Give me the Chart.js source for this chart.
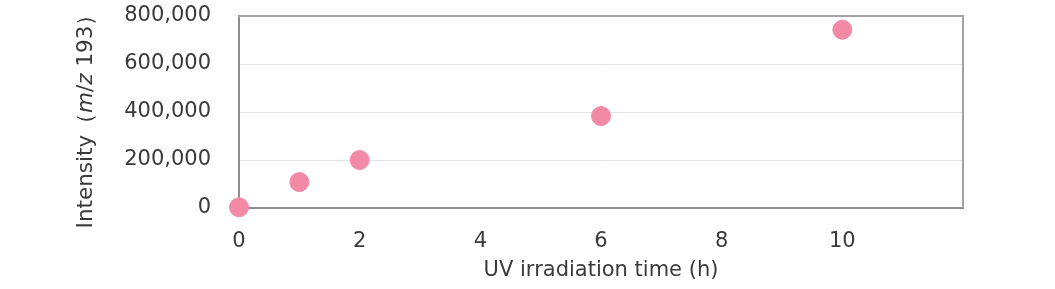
<!DOCTYPE html>
<html>
<head>
<meta charset="utf-8">
<script src="https://cdn.jsdelivr.net/npm/chart.js@4"></script>
<style>
  html, body { margin: 0; padding: 0; background: #fff; }
  #wrap { width: 1055px; height: 289px; }
</style>
</head>
<body>
<div id="wrap"><canvas id="uvChart" width="1055" height="289"></canvas></div>
<script>
// irradiation time (h) and measured intensity of m/z 193
const hours = [0, 1, 2, 6, 10];
const intensity = [3000, 108000, 200000, 383000, 743000];
const xTicks = [0, 2, 4, 6, 8, 10];
const yTicks = [0, 200000, 400000, 600000, 800000];

const FONT = 'DejaVu Sans, Verdana, sans-serif';

// frame round the plot area (top and right sides)
const frame = {
    id: 'frame',
    beforeDatasetsDraw(chart) {
        const {ctx, chartArea: a} = chart;
        ctx.save();
        ctx.strokeStyle = '#a3a3a3';
        ctx.lineWidth = 2;
        ctx.beginPath();
        ctx.moveTo(a.left, a.top);
        ctx.lineTo(a.right, a.top);
        ctx.lineTo(a.right, a.bottom);
        ctx.stroke();
        ctx.restore();
    }
};

// y title with italic m and z
const yTitle = {
    id: 'yTitle',
    afterDraw(chart) {
        const ctx = chart.ctx;
        const parts = [
            ['Intensity（', ''],
            ['m', 'italic '],
            ['/', ''],
            ['z', 'italic '],
            [' 193）', '']
        ];
        const size = 21.5;
        let total = 0;
        parts.forEach(p => {
            ctx.font = p[1] + size + 'px ' + FONT;
            total += ctx.measureText(p[0]).width;
        });
        ctx.save();
        ctx.translate(86, 116);
        ctx.rotate(-Math.PI / 2);
        ctx.fillStyle = '#3a3a3a';
        ctx.textBaseline = 'middle';
        let x = -total / 2;
        parts.forEach(p => {
            ctx.font = p[1] + size + 'px ' + FONT;
            ctx.fillText(p[0], x, 0);
            x += ctx.measureText(p[0]).width;
        });
        ctx.restore();
    }
};

new Chart(document.getElementById('uvChart').getContext('2d'), {
    type: 'scatter',
    data: {
        datasets: [{
            data: hours.map((h, i) => ({x: h, y: intensity[i]})),
            backgroundColor: '#f28aa6',
            borderColor: '#f28aa6',
            pointRadius: 9.5,
            pointHoverRadius: 9.5,
            clip: false
        }]
    },
    options: {
        responsive: false,
        animation: false,
        layout: { padding: { left: 0, right: 92, top: 16, bottom: 0 } },
        plugins: {
            legend: { display: false },
            tooltip: { enabled: false }
        },
        scales: {
            x: {
                type: 'linear',
                min: 0,
                max: 12,
                afterBuildTicks(scale) { scale.ticks = xTicks.map(v => ({value: v})); },
                afterFit(scale) { scale.height = 81; },
                grid: { display: false, drawTicks: false },
                border: { color: '#8e8e8e', width: 2 },
                ticks: {
                    color: '#3a3a3a',
                    padding: 21,
                    maxRotation: 0,
                    font: { family: FONT, size: 21 }
                },
                title: {
                    display: true,
                    text: 'UV irradiation time (h)',
                    color: '#3a3a3a',
                    padding: { top: 0, bottom: 6 },
                    font: { family: FONT, size: 21 }
                }
            },
            y: {
                min: 0,
                max: 800000,
                afterBuildTicks(scale) { scale.ticks = yTicks.map(v => ({value: v})); },
                afterFit(scale) {
                    scale.width = 239;
                    scale.paddingTop = 0;
                    scale.paddingBottom = 0;
                },
                grid: { color: '#e4e4e4', lineWidth: 1, drawTicks: false },
                border: { color: '#8e8e8e', width: 2 },
                ticks: {
                    color: '#3a3a3a',
                    padding: 28,
                    font: { family: FONT, size: 21 },
                    callback: v => v.toLocaleString('en-US')
                }
            }
        }
    },
    plugins: [frame, yTitle]
});
</script>
</body>
</html>
